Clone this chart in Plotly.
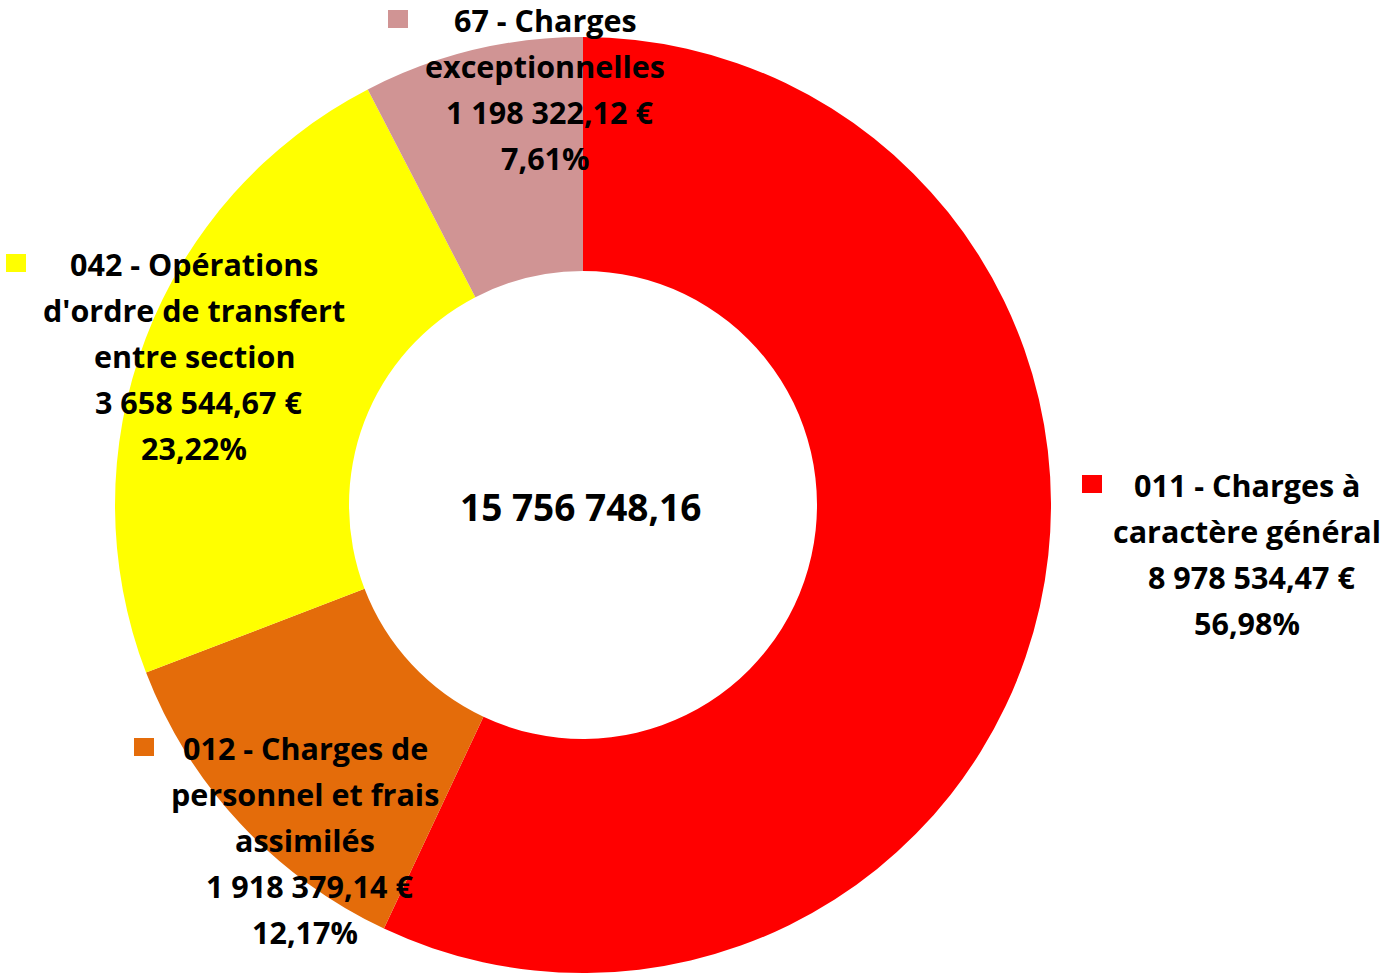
import plotly.graph_objects as go

W, H = 1387, 973

# ---- data ----
codes = ["011", "012", "042", "67"]
names = ["011 - Charges à\ncaractère général",
         "012 - Charges de\npersonnel et frais\nassimilés",
         "042 - Opérations\nd'ordre de transfert\nentre section",
         "67 - Charges\nexceptionnelles"]
values = [8978534.47, 1918379.14, 3658544.67, 1198322.12]
colors = ["#FF0000", "#E46C0A", "#FFFF00", "#D09494"]
total_shown = 15756748.16  # total displayed in the centre of the original chart


def fr_num(v):
    s = f"{v:,.2f}"
    return s.replace(",", " ").replace(".", ",")


def fr_pct(p):
    return f"{p * 100:.2f}".replace(".", ",") + "%"


# ---- layout (pixel geometry, in screenshot coordinates) ----
cx, cy, R = 583, 505, 468
hole = 0.50
font_size = 30.5
center_size = 37
line_gap = 46
FONT = "Open Sans"
# top line center y, text center x, marker left x  (pixels)
label_pos = {
    "011": (485, 1247, 1082),
    "012": (748, 305, 134),
    "042": (264, 194, 6),
    "67": (20, 545, 388),
}


def px(x):
    return x / W


def py(y):
    return 1 - y / H


fig = go.Figure()
fig.add_trace(go.Pie(
    labels=[n.replace("\n", " ") for n in names],
    values=values,
    marker=dict(colors=colors, line=dict(width=0)),
    hole=hole,
    sort=False,
    direction="clockwise",
    rotation=0,
    textinfo="none",
    showlegend=False,
    domain=dict(x=[px(cx - R), px(cx + R)], y=[max(0, py(cy + R)), py(cy - R)]),
))

annotations = []
shapes = []
for code, name, v, col in zip(codes, names, values, colors):
    y0, xc, mx = label_pos[code]
    lines = name.split("\n") + [fr_num(v) + " €", fr_pct(v / total_shown)]
    for i, ln in enumerate(lines):
        dx = 4 if ln.endswith("€") else 0
        annotations.append(dict(
            x=px(xc + dx), y=py(y0 + i * line_gap), xref="paper", yref="paper",
            text=ln, showarrow=False, xanchor="center", yanchor="middle",
            font=dict(family=FONT, size=font_size, color="black", weight="bold"),
        ))
    shapes.append(dict(type="rect", xref="paper", yref="paper",
                       x0=px(mx), x1=px(mx + 20), y0=py(y0 - 10), y1=py(y0 + 8),
                       fillcolor=col, line=dict(width=0)))

annotations.append(dict(
    x=px(580), y=py(506), xref="paper", yref="paper",
    text=fr_num(total_shown), showarrow=False, xanchor="center", yanchor="middle",
    font=dict(family=FONT, size=center_size, color="black", weight="bold"),
))

fig.update_layout(
    width=W, height=H,
    margin=dict(l=0, r=0, t=0, b=0),
    paper_bgcolor="white", plot_bgcolor="white",
    annotations=annotations, shapes=shapes,
)

fig.write_html("out.html", config={"displayModeBar": False},
               post_script="document.body.style.margin='0';")
